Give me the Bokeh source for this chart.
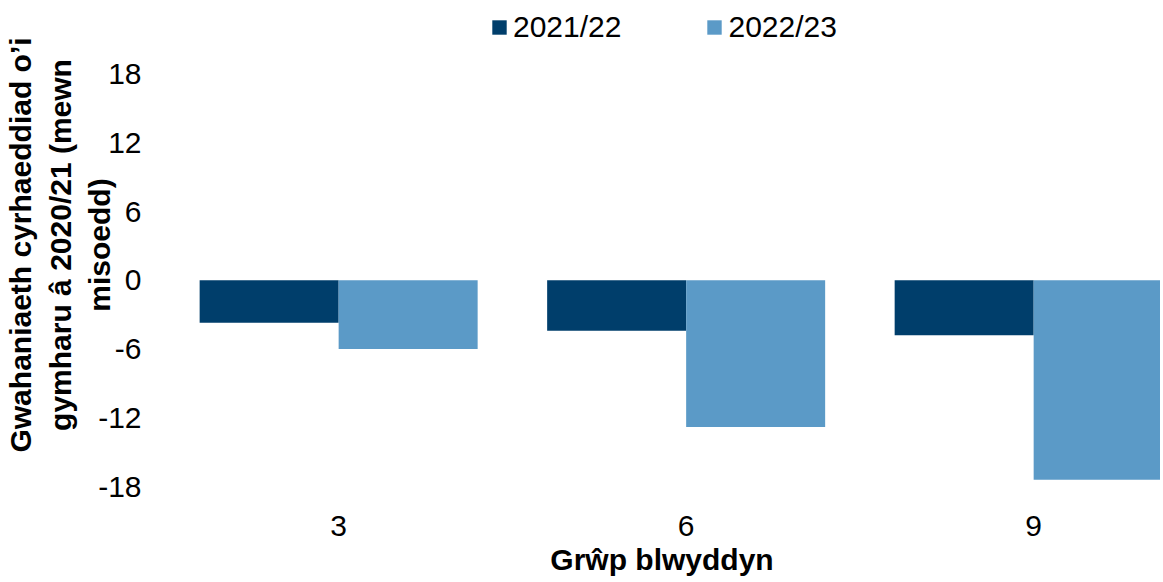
from bokeh.plotting import figure
from bokeh.models import ColumnDataSource, Range1d, FixedTicker, Legend, LegendItem
from bokeh.transform import dodge
from bokeh.embed import file_html
from bokeh.resources import INLINE

groups = ["3", "6", "9"]
series = ["2021/22", "2022/23"]
v2122 = [-3.7, -4.4, -4.8]
v2223 = [-6.0, -12.8, -17.4]
yticks = [-18, -12, -6, 0, 6, 12, 18]
ytick_labels = ["-18", "-12", "-6", "0", "6", "12", "18"]
colors = ["#003E6B", "#5B9AC7"]

FONT = "Liberation Sans"

src = ColumnDataSource(dict(x=list(range(len(groups))), a=v2122, b=v2223))

p = figure(width=1160, height=578, output_backend="svg", toolbar_location=None,
           x_range=Range1d(-0.504, 2.365), y_range=Range1d(-18.0, 24.17),
           min_border_left=163, min_border_right=0, min_border_top=3, min_border_bottom=90)
p.outline_line_color = None
p.xgrid.visible = False
p.ygrid.visible = False

r1 = p.vbar(x=dodge("x", -0.2, range=p.x_range), top="a", bottom=0, width=0.4, source=src,
            fill_color=colors[0], line_color=None)
r2 = p.vbar(x=dodge("x", 0.2, range=p.x_range), top="b", bottom=0, width=0.4, source=src,
            fill_color=colors[1], line_color=None)

# y axis
ya = p.yaxis[0]
ya.ticker = FixedTicker(ticks=yticks)
ya.major_label_overrides = dict(zip(yticks, ytick_labels))
ya.axis_line_color = None
ya.major_tick_line_color = None
ya.minor_tick_line_color = None
ya.major_tick_out = 0
ya.major_label_standoff = 22
ya.major_label_text_font = FONT
ya.major_label_text_font_size = "30px"
ya.major_label_text_color = "#000000"
ya.axis_label = "Gwahaniaeth cyrhaeddiad o’i\ngymharu â 2020/21 (mewn\nmisoedd)"
ya.axis_label_text_font = FONT
ya.axis_label_text_font_size = "30px"
ya.axis_label_text_font_style = "bold"
ya.axis_label_text_color = "#000000"
ya.axis_label_standoff = -21

# x axis
xa = p.xaxis[0]
xa.ticker = FixedTicker(ticks=list(range(len(groups))))
xa.major_label_overrides = {i: g for i, g in enumerate(groups)}
xa.axis_line_color = None
xa.major_tick_line_color = None
xa.minor_tick_line_color = None
xa.major_tick_out = 0
xa.major_label_standoff = 29
xa.major_label_text_font = FONT
xa.major_label_text_font_size = "30px"
xa.major_label_text_color = "#000000"
xa.axis_label = "Grŵp blwyddyn"
xa.axis_label_text_font = FONT
xa.axis_label_text_font_size = "30px"
xa.axis_label_text_font_style = "bold"
xa.axis_label_text_color = "#000000"
xa.axis_label_standoff = 4

legend = Legend(items=[LegendItem(label=series[0], renderers=[r1]),
                       LegendItem(label=series[1], renderers=[r2])],
                orientation="horizontal", location=(327, 442),
                glyph_width=18, glyph_height=18, label_standoff=5, spacing=84,
                padding=0, margin=0, border_line_color=None,
                background_fill_alpha=0,
                label_text_font=FONT, label_text_font_size="30px", label_text_color="#000000")
p.add_layout(legend, "center")

open("out.html", "w").write(file_html(p, INLINE))
